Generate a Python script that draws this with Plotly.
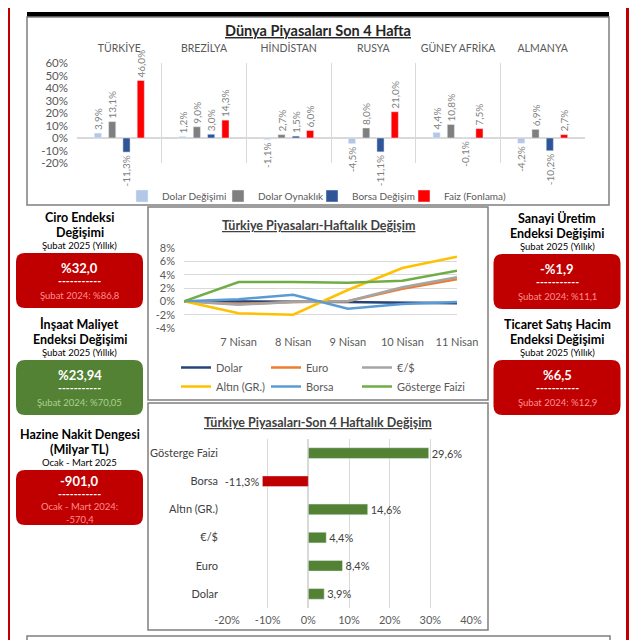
import plotly.graph_objects as go

# The page body has an 8px margin, so the 632px figure fills the 640px window.
OFF = 8
W = H = 632
FONT = "Lato"


def X(px):
    return (px - OFF) / W


def Y(py):
    return 1 - (py - OFF) / H


def pct(v):
    return f"{v:.1f}%".replace(".", ",")


# ---------------- Data ----------------
COUNTRIES = ["TÜRKİYE", "BREZİLYA", "HİNDİSTAN", "RUSYA", "GÜNEY AFRİKA", "ALMANYA"]
DOLAR_DEGISIMI = [3.9, 1.2, -1.1, -4.5, 4.4, -4.2]
DOLAR_OYNAKLIK = [13.1, 9.0, 2.7, 8.0, 10.8, 6.9]
BORSA_DEGISIM = [-11.3, 3.0, 1.5, -11.1, -0.1, -10.2]
FAIZ_FONLAMA = [46.0, 14.3, 6.0, 21.0, 7.5, 2.7]
WORLD_TICKS = [-20, -10, 0, 10, 20, 30, 40, 50, 60]

DAYS = ["", "7 Nisan", "8 Nisan", "9 Nisan", "10 Nisan", "11 Nisan"]
DOLAR_W = [0.0, 0.0, -0.1, -0.1, -0.2, -0.3]
EURO_W = [0.0, -0.4, -0.1, 0.0, 1.9, 3.3]
EURUSD_W = [0.0, -0.5, -0.1, 0.0, 2.1, 3.6]
ALTIN_W = [0.0, -1.8, -2.0, 1.7, 5.0, 6.7]
BORSA_W = [0.0, 0.3, 1.0, -1.1, -0.4, -0.1]
GOSTERGE_W = [0.0, 2.9, 2.9, 2.8, 3.1, 4.6]
WEEK_TICKS = [-4, -2, 0, 2, 4, 6, 8]

ASSETS = ["Dolar", "Euro", "€/$", "Altın (GR.)", "Borsa", "Gösterge Faizi"]
CHANGE_4W = [3.9, 8.4, 4.4, 14.6, -11.3, 29.6]
MONTH_TICKS = [-20, -10, 0, 10, 20, 30, 40]

# KPI cards: title lines, period, value, previous lines, colour key
KPI_LEFT = [
    (["Ciro Endeksi", "Değişimi"], "Şubat 2025 (Yıllık)", "%32,0", ["Şubat 2024: %86,8"], "red"),
    (["İnşaat Maliyet", "Endeksi Değişimi"], "Şubat 2025 (Yıllık)", "%23,94", ["Şubat 2024: %70,05"], "green"),
    (["Hazine Nakit Dengesi", "(Milyar TL)"], "Ocak - Mart 2025", "-901,0", ["Ocak - Mart 2024:", "-570,4"], "red"),
]
KPI_RIGHT = [
    (["Sanayi Üretim", "Endeksi Değişimi"], "Şubat 2025 (Yıllık)", "-%1,9", ["Şubat 2024: %11,1"], "red"),
    (["Ticaret Satış Hacim", "Endeksi Değişimi"], "Şubat 2025 (Yıllık)", "%6,5", ["Şubat 2024: %12,9"], "red"),
]

# ---------------- Styles ----------------
RED = "#c00000"
GREEN = "#548235"
CARD = {"red": (RED, "#ff8f8f"), "green": (GREEN, "#a9d18e")}
GRID = "#d9d9d9"
TXT = "#595959"

fig = go.Figure()

# ---- World markets grouped bars (one legend box per entry) ----
world_series = [
    ("Dolar Değişimi", DOLAR_DEGISIMI, "#b4c7e7", "legend"),
    ("Dolar Oynaklık", DOLAR_OYNAKLIK, "#7f7f7f", "legend4"),
    ("Borsa Değişim", BORSA_DEGISIM, "#2f5597", "legend5"),
    ("Faiz (Fonlama)", FAIZ_FONLAMA, "#ff0000", "legend6"),
]
for name, vals, color, lg in world_series:
    fig.add_trace(go.Bar(
        x=COUNTRIES, y=vals, name=name, marker_color=color,
        text=[pct(v) for v in vals], textposition="outside", textangle=-90,
        textfont=dict(size=10, color="#7f7f7f", family=FONT),
        cliponaxis=False, constraintext="none",
        xaxis="x", yaxis="y", legend=lg, hoverinfo="skip",
    ))

# ---- Weekly lines (legend columns) ----
line_series = [
    ("Dolar", DOLAR_W, "#264478", "legend2"),
    ("Euro", EURO_W, "#ed7d31", "legend3"),
    ("€/$", EURUSD_W, "#a5a5a5", "legend7"),
    ("Altın (GR.)", ALTIN_W, "#ffc000", "legend2"),
    ("Borsa", BORSA_W, "#5b9bd5", "legend3"),
    ("Gösterge Faizi", GOSTERGE_W, "#70ad47", "legend7"),
]
for name, vals, color, lg in line_series:
    fig.add_trace(go.Scatter(
        x=list(range(len(DAYS))), y=vals, name=name, mode="lines",
        line=dict(color=color, width=2.5), xaxis="x2", yaxis="y2", legend=lg,
        hoverinfo="skip",
    ))

# ---- 4-week horizontal bars ----
fig.add_trace(go.Bar(
    x=CHANGE_4W, y=ASSETS, orientation="h", width=0.38,
    marker_color=[GREEN if v >= 0 else RED for v in CHANGE_4W],
    text=[pct(v) for v in CHANGE_4W], textposition="outside",
    textfont=dict(size=11, color="#404040", family=FONT),
    cliponaxis=False, constraintext="none", showlegend=False,
    xaxis="x3", yaxis="y3", hoverinfo="skip",
))

# ---------------- Shapes ----------------
shapes = []


def rect(x0, y0, x1, y1, fill=None, line=None, lw=0):
    shapes.append(dict(type="rect", xref="paper", yref="paper",
                       x0=X(x0), x1=X(x1), y0=Y(y1), y1=Y(y0),
                       fillcolor=fill if fill else "rgba(0,0,0,0)",
                       line=dict(color=line if line else "rgba(0,0,0,0)", width=lw),
                       layer="below"))


def rrect(x0, y0, x1, y1, r, fill):
    pts = [
        f"M{X(x0 + r)},{Y(y0)}", f"L{X(x1 - r)},{Y(y0)}",
        f"Q{X(x1)},{Y(y0)} {X(x1)},{Y(y0 + r)}", f"L{X(x1)},{Y(y1 - r)}",
        f"Q{X(x1)},{Y(y1)} {X(x1 - r)},{Y(y1)}", f"L{X(x0 + r)},{Y(y1)}",
        f"Q{X(x0)},{Y(y1)} {X(x0)},{Y(y1 - r)}", f"L{X(x0)},{Y(y0 + r)}",
        f"Q{X(x0)},{Y(y0)} {X(x0 + r)},{Y(y0)}", "Z",
    ]
    shapes.append(dict(type="path", xref="paper", yref="paper", path=" ".join(pts),
                       fillcolor=fill, line=dict(width=0), layer="below"))


rect(8, 8, 10, 640, fill=RED)
rect(626, 8, 629, 640, fill=RED)
rect(27, 12, 609, 17, fill="#000000")
rect(27, 17, 609, 205, line="#7f7f7f", lw=1.5)
rect(148, 207, 488, 400, line="#7f7f7f", lw=1.5)
rect(148, 403, 488, 630, line="#7f7f7f", lw=1.5)
rect(27, 636, 610, 660, line="#7f7f7f", lw=1.5)

# ---------------- Annotations ----------------
ann = []


def text(x, y, s, size, color="#000000", bold=False):
    ann.append(dict(x=X(x), y=Y(y), xref="paper", yref="paper", text=s, showarrow=False,
                    xanchor="center", yanchor="middle", borderpad=0,
                    font=dict(family=FONT, size=size, color=color,
                              weight=700 if bold else 400)))


text(318, 31, "<b><u>Dünya Piyasaları Son 4 Hafta</u></b>", 14.5, "#262626")
text(318, 225, "<b><u>Türkiye Piyasaları-Haftalık Değişim</u></b>", 12.5, "#404040")
text(318, 423, "<b><u>Türkiye Piyasaları-Son 4 Haftalık Değişim</u></b>", 12.5, "#404040")


def cards(cx, specs, tops):
    for (titles, period, value, prev, ck), top in zip(specs, tops):
        fill, sub = CARD[ck]
        y = top
        for t in titles:
            text(cx, y, t, 12.5, "#000000", bold=True)
            y += 15
        text(cx, y - 2, period, 9.5, "#000000")
        box_top = y + 6
        rrect(cx - 63.5, box_top, cx + 63.5, box_top + 55, 9, fill)
        if len(prev) > 1:
            offs = (11, 24, 36)
        else:
            offs = (15, 28, 42)
        text(cx, box_top + offs[0], value, 13, "#ffffff", bold=True)
        text(cx, box_top + offs[1], "-----------", 10.5, "#ffffff", bold=True)
        yy = box_top + offs[2]
        for p in prev:
            text(cx, yy, p, 9.5, sub)
            yy += 13


cards(79.5, KPI_LEFT, [217, 324, 434])
cards(557, KPI_RIGHT, [218, 324])


# ---------------- Legends ----------------
def leg(xpx, ypx, size=10):
    return dict(orientation="v", x=X(xpx), y=Y(ypx), xanchor="left", yanchor="middle",
                font=dict(size=size, color=TXT, family=FONT), bgcolor="rgba(0,0,0,0)",
                itemwidth=30, traceorder="normal", tracegroupgap=0)


# ---------------- Layout ----------------
fig.update_layout(
    width=W, height=H, margin=dict(l=0, r=0, t=0, b=0, autoexpand=False),
    paper_bgcolor="white", plot_bgcolor="rgba(0,0,0,0)",
    font=dict(family=FONT, color=TXT),
    barmode="group", bargap=0.325, bargroupgap=0.5,
    shapes=shapes, annotations=ann,
    xaxis=dict(domain=[X(77), X(585)], anchor="y", type="category", side="top",
               tickson="boundaries", showgrid=True, gridcolor=GRID, gridwidth=1,
               ticks="", showline=False, tickfont=dict(size=10.5, color=TXT),
               ticklabelstandoff=8, fixedrange=True),
    yaxis=dict(domain=[Y(163), Y(63)], anchor="x", range=[-20, 60],
               tickvals=WORLD_TICKS, ticktext=[f"{v}%" for v in WORLD_TICKS],
               showgrid=False, zeroline=True, zerolinecolor=GRID, zerolinewidth=1.5,
               tickfont=dict(size=11.5, color=TXT), ticklabelstandoff=8, fixedrange=True),
    xaxis2=dict(domain=[X(184), X(457)], anchor="y2", range=[0, len(DAYS) - 1],
                tickvals=list(range(1, len(DAYS))), ticktext=DAYS[1:],
                showgrid=False, zeroline=False, ticks="", showline=False,
                tickfont=dict(size=11, color=TXT), ticklabelstandoff=6, fixedrange=True),
    yaxis2=dict(domain=[Y(328), Y(248)], anchor="x2", range=[-4, 8],
                tickvals=WEEK_TICKS, ticktext=[f"{v}%" for v in WEEK_TICKS],
                showgrid=True, gridcolor=GRID, zeroline=False,
                tickfont=dict(size=11, color=TXT), ticklabelstandoff=8, fixedrange=True),
    xaxis3=dict(domain=[X(227), X(471)], anchor="y3", range=[-20, 40],
                tickvals=MONTH_TICKS, ticktext=[f"{v}%" for v in MONTH_TICKS],
                showgrid=True, gridcolor=GRID, zeroline=True, zerolinecolor=GRID,
                tickfont=dict(size=11, color=TXT), ticklabelstandoff=4, fixedrange=True),
    yaxis3=dict(domain=[Y(608), Y(439)], anchor="x3", type="category",
                categoryorder="array", categoryarray=ASSETS,
                showgrid=False, ticks="", tickfont=dict(size=11, color="#404040"),
                ticklabelstandoff=8, fixedrange=True),
    legend=leg(122, 196),
    legend4=leg(218, 196),
    legend5=leg(312, 196),
    legend6=leg(404, 196),
    legend2=leg(176, 377, 11),
    legend3=leg(266, 377, 11),
    legend7=leg(357, 377, 11),
)

fig.write_html("out.html")
